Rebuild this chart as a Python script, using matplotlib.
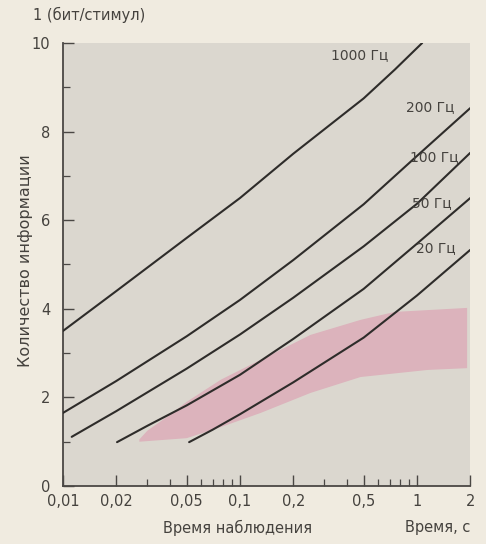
import matplotlib
matplotlib.use("Agg")
import matplotlib.pyplot as plt
from matplotlib.ticker import FixedLocator, NullFormatter

# --- данные ---
x_1000 = [0.01, 0.02, 0.05, 0.1, 0.2, 0.5, 0.75, 1.07]
y_1000 = [3.5, 4.4, 5.6, 6.5, 7.5, 8.75, 9.4, 10.0]
x_200 = [0.01, 0.02, 0.05, 0.1, 0.2, 0.5, 1, 2]
y_200 = [1.65, 2.37, 3.38, 4.2, 5.1, 6.36, 7.45, 8.53]
x_100 = [0.0112, 0.02, 0.05, 0.1, 0.2, 0.5, 1, 2]
y_100 = [1.11, 1.69, 2.65, 3.42, 4.25, 5.41, 6.37, 7.52]
x_50 = [0.0202, 0.03, 0.05, 0.1, 0.2, 0.5, 1, 2]
y_50 = [0.99, 1.36, 1.82, 2.51, 3.32, 4.45, 5.47, 6.5]
x_20 = [0.0516, 0.07, 0.1, 0.2, 0.5, 1, 2]
y_20 = [0.99, 1.27, 1.62, 2.34, 3.35, 4.3, 5.33]

curve_labels = ["1000 Гц", "200 Гц", "100 Гц", "50 Гц", "20 Гц"]
label_x = [0.476, 1.18, 1.26, 1.22, 1.27]
label_y = [9.73, 8.56, 7.43, 6.39, 5.37]

# розовая полоса: верхняя и нижняя границы
band_up_x = [0.027, 0.03, 0.04, 0.05, 0.078, 0.131, 0.25, 0.48, 0.75, 1.92]
band_up_y = [1.05, 1.25, 1.6, 1.9, 2.4, 2.85, 3.41, 3.75, 3.93, 4.02]
band_lo_x = [0.027, 0.05, 0.078, 0.131, 0.25, 0.48, 1.15, 1.92]
band_lo_y = [1.0, 1.08, 1.33, 1.65, 2.1, 2.46, 2.62, 2.66]

x_ticks = [0.01, 0.02, 0.05, 0.1, 0.2, 0.5, 1, 2]
x_ticklabels = ["0,01", "0,02", "0,05", "0,1", "0,2", "0,5", "1", "2"]
x_minor = [0.03, 0.04, 0.06, 0.07, 0.08, 0.09, 0.3, 0.4, 0.6, 0.7, 0.8, 0.9]
y_ticks = [0, 2, 4, 6, 8, 10]
y_minor = [1, 3, 5, 7, 9]

plt.rcParams["font.family"] = ["DejaVu Sans"]
text_c = "#45423e"
fs = 10.5
fig = plt.figure(figsize=(4.86, 5.44), dpi=100, facecolor="#f0ebe0")
ax = fig.add_axes([0.1296, 0.1066, 0.838, 0.8144])
ax.set_facecolor("#dbd7cf")

# полоса
poly_x = band_up_x + band_lo_x[::-1]
poly_y = band_up_y + band_lo_y[::-1]
ax.fill(poly_x, poly_y, color="#dcb3bc", lw=0, zorder=1)

for xs, ys in [(x_1000, y_1000), (x_200, y_200), (x_100, y_100), (x_50, y_50), (x_20, y_20)]:
    ax.plot(xs, ys, color="#2e2c2a", lw=1.5, zorder=3, solid_capstyle="round")

for lab, lx, ly in zip(curve_labels, label_x, label_y):
    ax.text(lx, ly, lab, ha="center", va="center", fontsize=10, color=text_c, zorder=4)

ax.set_xscale("log")
ax.set_xlim(0.01, 2)
ax.set_ylim(0, 10)
ax.xaxis.set_major_locator(FixedLocator(x_ticks))
ax.set_xticklabels(x_ticklabels)
ax.xaxis.set_minor_locator(FixedLocator(x_minor))
ax.xaxis.set_minor_formatter(NullFormatter())
ax.yaxis.set_major_locator(FixedLocator(y_ticks))
ax.yaxis.set_minor_locator(FixedLocator(y_minor))

for s in ["top", "right"]:
    ax.spines[s].set_visible(False)
for s in ["left", "bottom"]:
    ax.spines[s].set_color("#4a4744")
    ax.spines[s].set_linewidth(1.3)
ax.tick_params(which="major", direction="in", length=8, width=1.0, color="#4a4744",
               labelsize=fs, labelcolor=text_c, pad=6)
ax.tick_params(which="minor", direction="in", length=5, width=0.9, color="#4a4744")
ax.tick_params(axis="y", which="major", pad=9)

fig.text(0.052, 0.52, "Количество информации", fontsize=11.5, color=text_c,
         rotation=90, ha="center", va="center")
fig.text(0.068, 0.972, "1 (бит/стимул)", fontsize=fs, color=text_c, ha="left", va="center")
fig.text(0.488, 0.03, "Время наблюдения", fontsize=fs, color=text_c, ha="center", va="center")
fig.text(0.9, 0.03, "Время, с", fontsize=fs, color=text_c, ha="center", va="center")

fig.savefig("out.png", dpi=100, facecolor=fig.get_facecolor())
